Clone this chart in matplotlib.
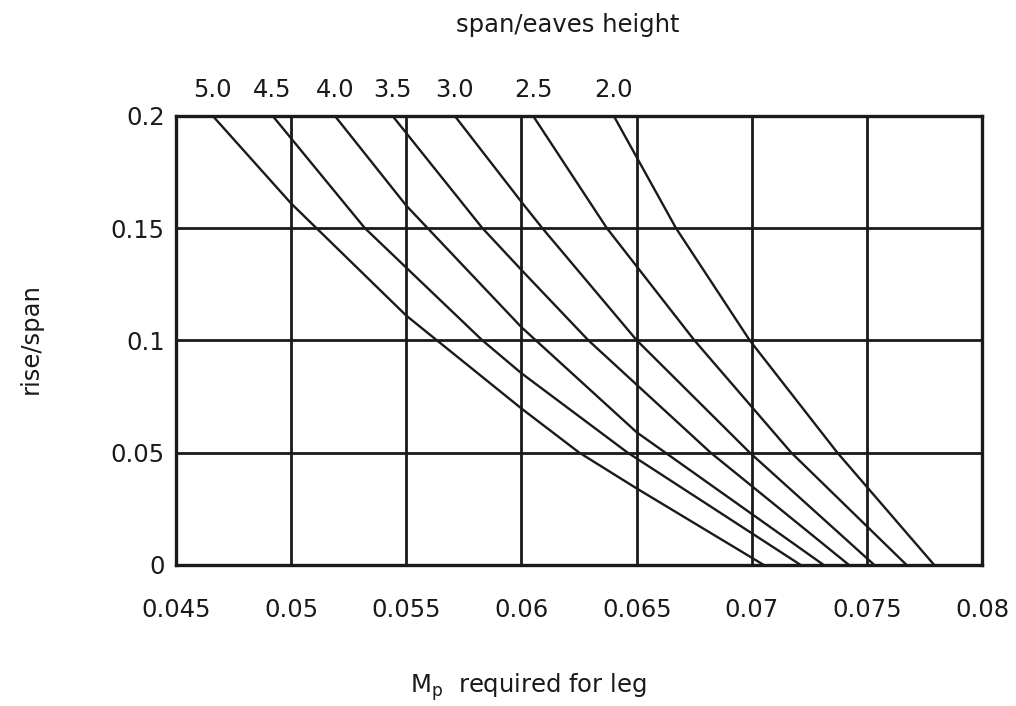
import matplotlib
matplotlib.use("Agg")
import matplotlib.pyplot as plt
import matplotlib.transforms as mtransforms

plt.rcParams['font.family'] = ['DejaVu Sans']

# span/eaves height labels (top)
ratios = ["5.0", "4.5", "4.0", "3.5", "3.0", "2.5", "2.0"]

# Each curve: Mp required for leg (x) vs rise/span (y)
x_50 = [0.0466, 0.0500, 0.0550, 0.0600, 0.0625, 0.0650, 0.0705]
y_50 = [0.200, 0.161, 0.111, 0.0696, 0.050, 0.034, 0.0]

x_45 = [0.0492, 0.0532, 0.0583, 0.0600, 0.0646, 0.0721]
y_45 = [0.200, 0.150, 0.100, 0.0853, 0.050, 0.0]

x_40 = [0.0519, 0.0550, 0.0600, 0.0650, 0.0731]
y_40 = [0.200, 0.160, 0.1058, 0.059, 0.0]

x_35 = [0.0544, 0.0583, 0.0600, 0.0629, 0.0682, 0.0742]
y_35 = [0.200, 0.150, 0.1313, 0.100, 0.050, 0.0]

x_30 = [0.0571, 0.0600, 0.0609, 0.0650, 0.0699, 0.0753]
y_30 = [0.200, 0.1616, 0.150, 0.100, 0.050, 0.0]

x_25 = [0.0605, 0.0637, 0.0675, 0.0717, 0.0767]
y_25 = [0.200, 0.150, 0.100, 0.050, 0.0]

x_20 = [0.0640, 0.0667, 0.0699, 0.0737, 0.0779]
y_20 = [0.200, 0.150, 0.100, 0.050, 0.0]

curves_x = [x_50, x_45, x_40, x_35, x_30, x_25, x_20]
curves_y = [y_50, y_45, y_40, y_35, y_30, y_25, y_20]

x_ticks = [0.045, 0.05, 0.055, 0.06, 0.065, 0.07, 0.075, 0.08]
x_ticklabels = ["0.045", "0.05", "0.055", "0.06", "0.065", "0.07", "0.075", "0.08"]
y_ticks = [0, 0.05, 0.1, 0.15, 0.2]
y_ticklabels = ["0", "0.05", "0.1", "0.15", "0.2"]

ink = "#1a1a1a"

fig = plt.figure(figsize=(10.16, 7.06), dpi=100)
ax = fig.add_axes([0.173, 0.2, 0.794, 0.636])

ax.set_xlim(0.045, 0.08)
ax.set_ylim(0, 0.2)
ax.set_xticks(x_ticks)
ax.set_xticklabels(x_ticklabels)
ax.set_yticks(y_ticks)
ax.set_yticklabels(y_ticklabels)
ax.tick_params(axis='both', length=0, labelsize=17.5, colors=ink)
ax.tick_params(axis='x', pad=24)
ax.tick_params(axis='y', pad=8)

ax.grid(True, color=ink, linewidth=2.0)
ax.set_axisbelow(True)
for sp in ax.spines.values():
    sp.set_color(ink)
    sp.set_linewidth(2.4)

for xs, ys in zip(curves_x, curves_y):
    ax.plot(xs, ys, color=ink, linewidth=1.7, solid_joinstyle='round',
            solid_capstyle='round')

# top labels placed at each curve's top end
trans = mtransforms.blended_transform_factory(ax.transData, ax.transAxes)
for lab, xs in zip(ratios, curves_x):
    ax.text(xs[0], 1.03, lab, transform=trans, ha='center', va='bottom',
            fontsize=17.5, color=ink)

fig.text(0.559, 0.965, "span/eaves height", ha='center', va='center',
         fontsize=17.5, color=ink)
fig.text(0.03, 0.52, "rise/span", ha='center', va='center', rotation=90,
         fontsize=17.5, color=ink)
fig.text(0.52, 0.026, r"M$_\mathregular{p}$  required for leg", ha='center',
         va='center', fontsize=17.5, color=ink)

fig.savefig("out.png", dpi=100, facecolor="white")
